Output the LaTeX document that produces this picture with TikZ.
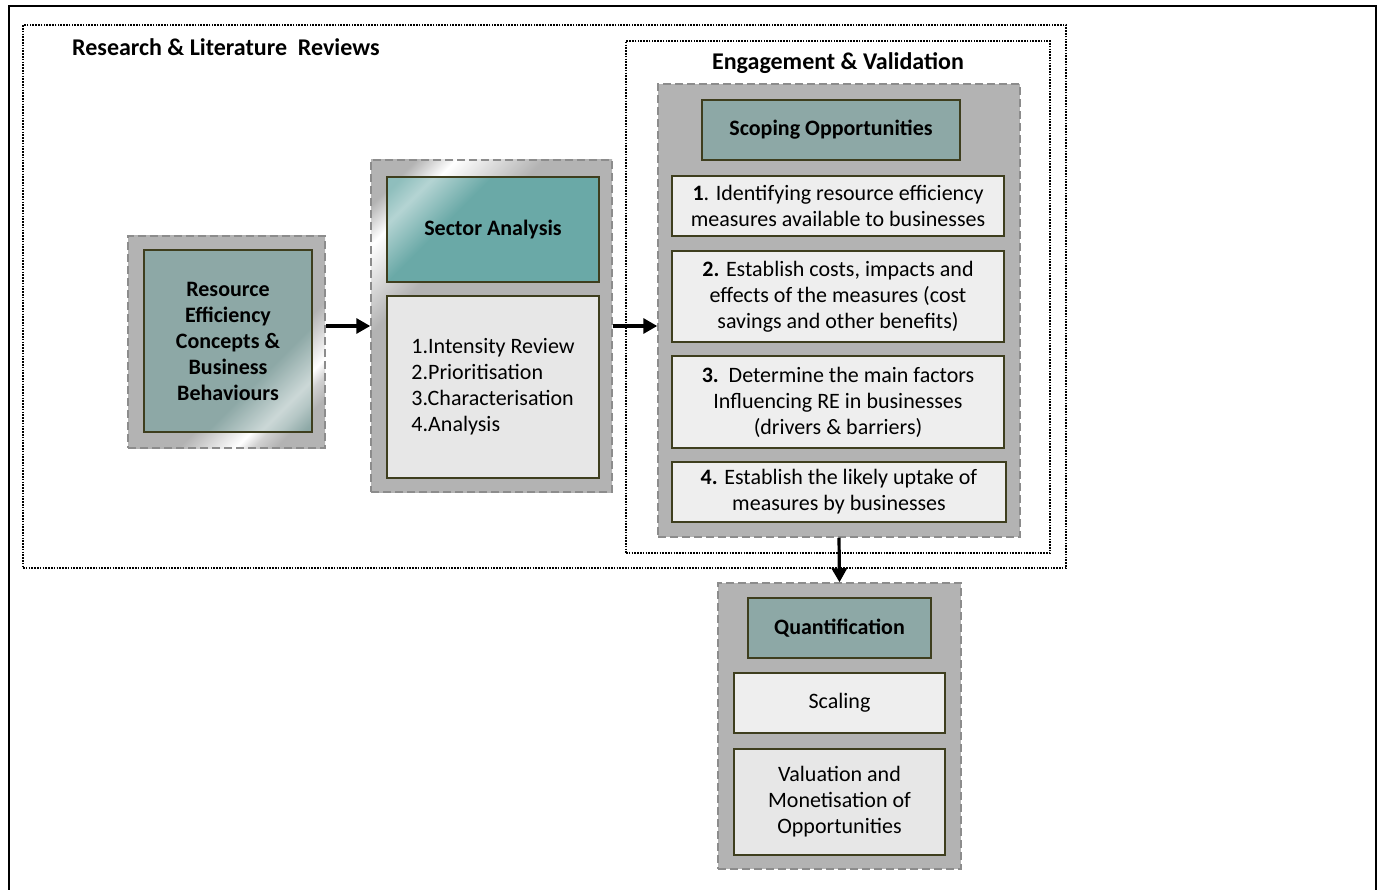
\documentclass[tikz,border=0pt]{standalone}
\usepackage{fontspec}
\setmainfont{Carlito}
\usetikzlibrary{arrows.meta}

\definecolor{boxgray}{RGB}{179,179,179}
\definecolor{dashgray}{RGB}{140,140,140}
\definecolor{edgeolive}{RGB}{62,62,30}
\definecolor{tealgray}{RGB}{141,168,166}
\definecolor{tealshine}{RGB}{106,169,167}
\definecolor{itemfill}{RGB}{238,238,238}
\definecolor{listfill}{RGB}{231,231,231}

% shiny streaks on the first two panels
\pgfdeclarehorizontalshading{shinelow}{100bp}{color(0bp)=(boxgray); color(60bp)=(boxgray); color(70bp)=(white); color(73bp)=(boxgray!60!white); color(77bp)=(boxgray); color(100bp)=(boxgray)}
\pgfdeclarehorizontalshading{shinehigh}{100bp}{color(0bp)=(boxgray); color(20bp)=(boxgray); color(25bp)=(white); color(36bp)=(boxgray); color(100bp)=(boxgray)}
\pgfdeclarehorizontalshading{teallow}{100bp}{color(0bp)=(tealgray); color(64bp)=(tealgray); color(75bp)=(tealgray!45!white); color(79bp)=(tealgray!65!white); color(84bp)=(tealgray); color(100bp)=(tealgray)}
\pgfdeclarehorizontalshading{tealhigh}{100bp}{color(0bp)=(tealshine!80!white); color(18bp)=(tealshine!75!white); color(25bp)=(tealshine!50!white); color(38bp)=(tealshine); color(100bp)=(tealshine)}

\begin{document}
\begin{tikzpicture}[x=1pt, y=-1pt, >={Triangle[length=14pt,width=15pt]},
    every node/.style={font=\fontsize{22}{26}\selectfont, align=center, inner sep=0pt},
    frame/.style={draw, line width=1.6pt, dash pattern=on 1.6pt off 1.2pt},
    panel/.style={draw=dashgray, fill=boxgray, line width=1.5pt, dash pattern=on 8pt off 4pt},
    shinypanel/.style={draw=dashgray, shade, shading angle=-45, line width=1.5pt, dash pattern=on 8pt off 4pt},
    head/.style={draw=edgeolive, fill=tealgray, line width=1.8pt, font=\fontsize{22}{26}\selectfont\bfseries},
    item/.style={draw=edgeolive, fill=itemfill, line width=1.8pt},
    title/.style={font=\fontsize{24}{28}\selectfont\bfseries},
    flow/.style={->, line width=3.2pt}]
    \useasboundingbox (0,0) rectangle (1380,890);
    \node[draw, line width=2.2pt, minimum width=1367, minimum height=910, anchor=north west] (page) at (8,5) {};

    % outer groups
    \node[frame, minimum width=1043, minimum height=543] (research) at (544.5,296.5) {};
    \node[title, anchor=west] (researchlbl) at (72,47) {Research \& Literature\ \ Reviews};
    \node[frame, minimum width=424, minimum height=512] (engage) at (838,297) {};
    \node[title] (engagelbl) at (838,63) {Engagement \& Validation};

    % concepts
    \node[shinypanel, shading=shinelow, minimum width=197, minimum height=212] (conceptpanel) at (226.5,342) {};
    \node[head, shade, shading=teallow, shading angle=-45, minimum width=168, minimum height=182] (concept) at (228,341) {Resource\\Efficiency\\Concepts \&\\Business\\Behaviours};

    % sector analysis
    \node[shinypanel, shading=shinehigh, minimum width=241, minimum height=332] (sectorpanel) at (491.5,326) {};
    \node[head, shade, shading=tealhigh, shading angle=-45, minimum width=212, minimum height=105] (sector) at (493,229.5) {Sector Analysis};
    \node[item, fill=listfill, align=left, minimum width=212, minimum height=182] (steps) at (493,387) {1.Intensity Review\\2.Prioritisation\\3.Characterisation\\4.Analysis};

    % scoping
    \node[panel, minimum width=362, minimum height=453] (engpanel) at (839,310.5) {};
    \node[head, minimum width=258, minimum height=60] (scoping) at (831,130) {Scoping Opportunities};
    \node[item, minimum width=332, minimum height=60] (m1) at (838,206) {\textbf{1}. Identifying resource efficiency\\measures available to businesses};
    \node[item, minimum width=332, minimum height=91] (m2) at (838,296.5) {\textbf{2.} Establish costs, impacts and\\effects of the measures (cost\\savings and other benefits)};
    \node[item, minimum width=332, minimum height=92] (m3) at (838,402) {\textbf{3.}\ \ Determine the main factors\\Influencing RE in businesses\\(drivers \& barriers)};
    \node[item, minimum width=334, minimum height=60] (m4) at (839,492) {\textbf{4.} Establish the likely uptake of\\measures by businesses};

    % quantification
    \node[panel, minimum width=243, minimum height=286] (quantpanel) at (839.5,726) {};
    \node[head, minimum width=183, minimum height=60] (quant) at (839.5,628) {Quantification};
    \node[item, minimum width=211, minimum height=60] (scaling) at (839.5,703) {Scaling};
    \node[item, fill=listfill, minimum width=211, minimum height=106] (valuation) at (839.5,802) {Valuation and\\Monetisation of\\Opportunities};

    \draw[flow] (conceptpanel.east |- sectorpanel.west) -- (sectorpanel.west);
    \draw[flow] (sectorpanel.east) -- (sectorpanel.east -| engpanel.west);
    \draw[flow] (engpanel.south) -- (quantpanel.north);
\end{tikzpicture}
\end{document}
